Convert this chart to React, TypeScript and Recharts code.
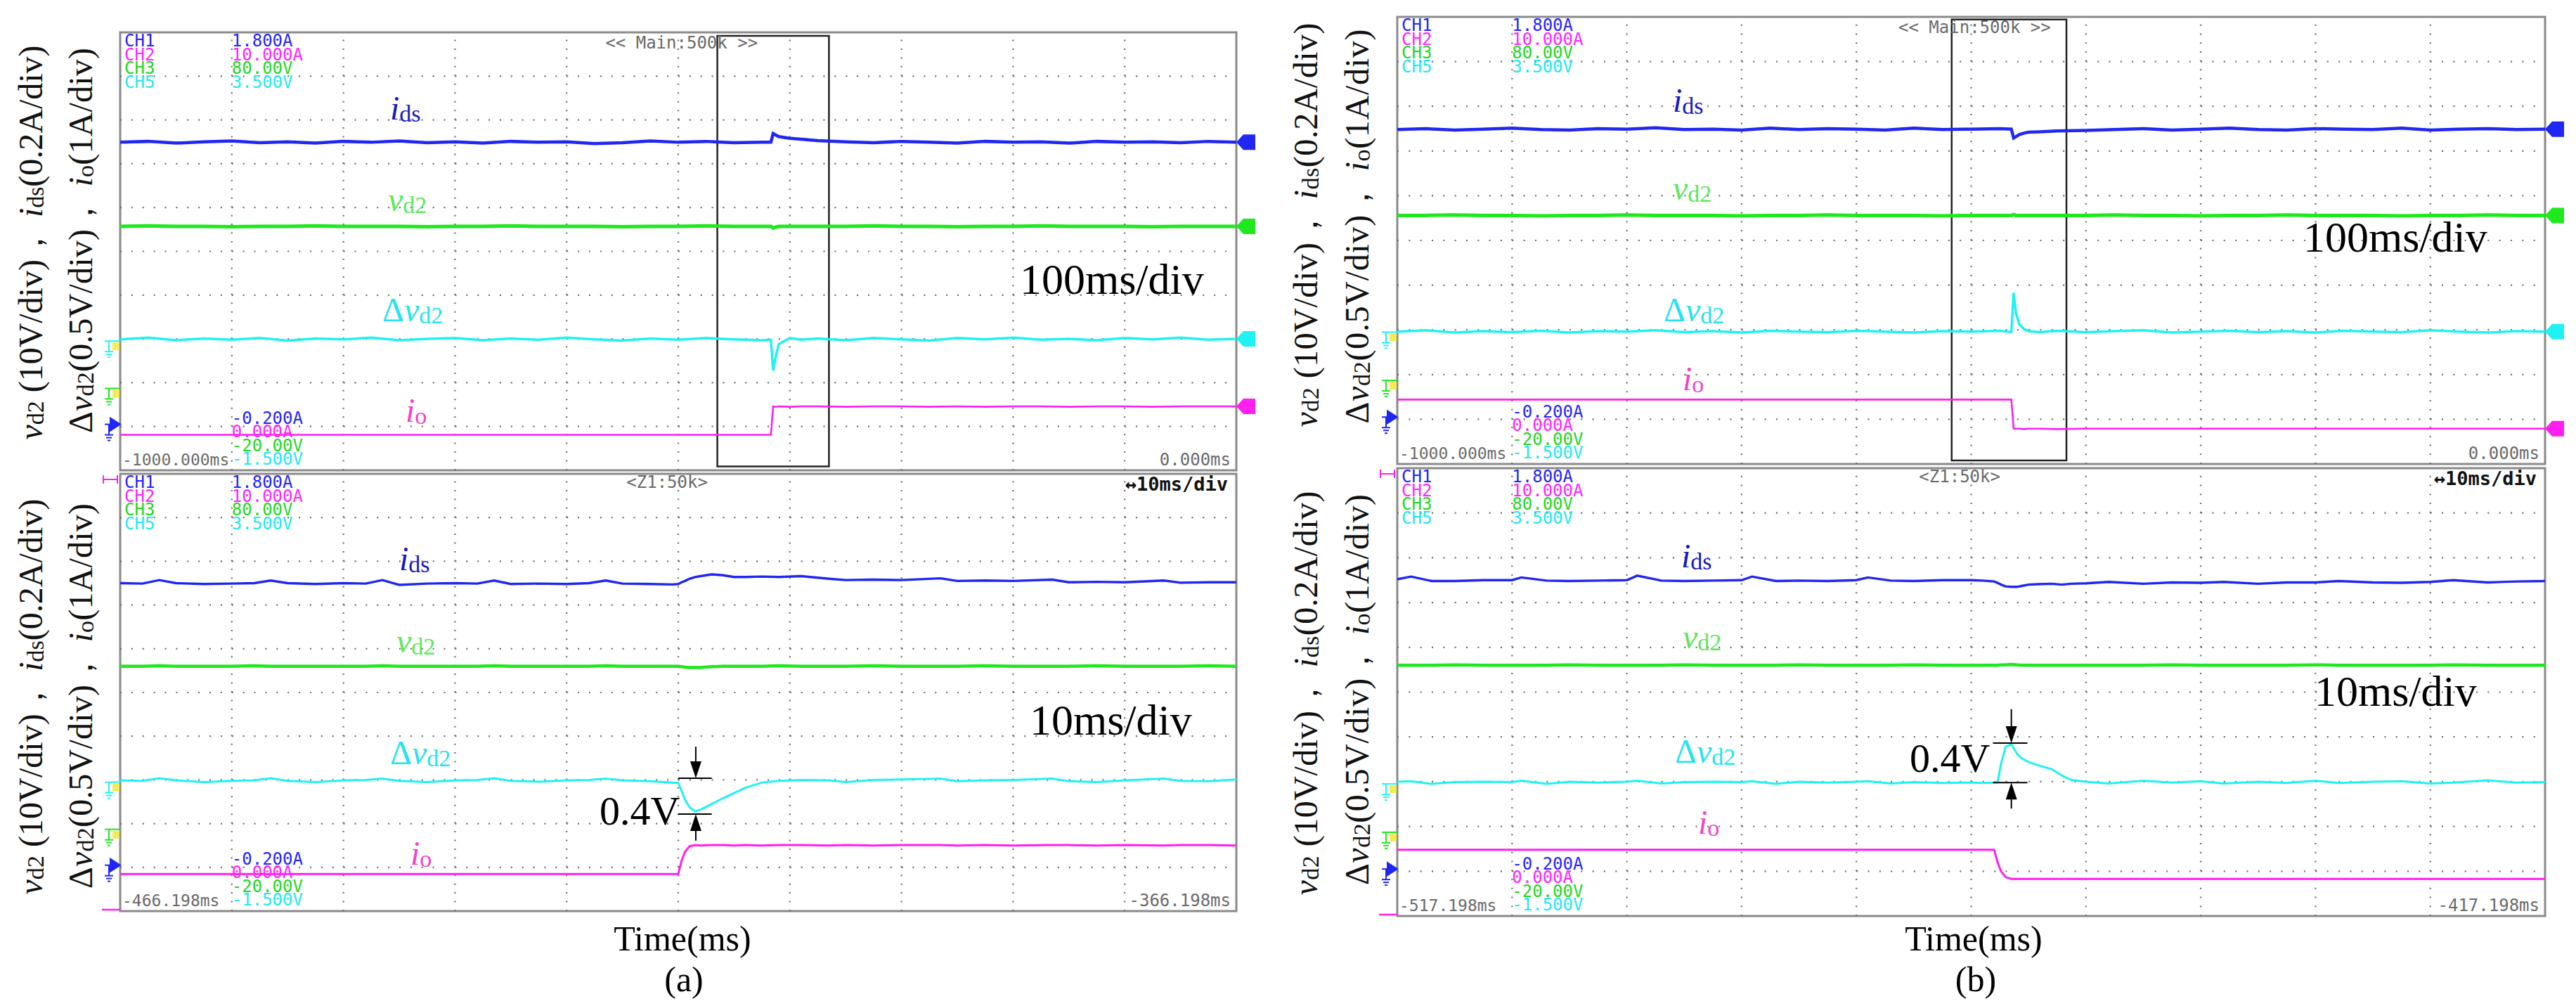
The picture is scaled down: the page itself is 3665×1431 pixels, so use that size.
import React from 'react'
import { LineChart, Line, XAxis, YAxis, ReferenceArea, ReferenceDot, ReferenceLine } from 'recharts'

// Scope readings in divisions: x 0..10 across the screen, y -5..5 around the centre line.

// (a) upper screen, 100ms/div
const aTopX = [0, 0.25, 0.5, 0.75, 1, 1.25, 1.5, 1.75, 2, 2.25, 2.5, 2.75, 3, 3.25, 3.5, 3.75, 4, 4.25, 4.5, 4.75, 5, 5.25, 5.5, 5.75,
  5.83, 5.85, 5.87, 5.9, 6, 6.1,
  6.25, 6.5, 6.75, 7, 7.25, 7.5, 7.75, 8, 8.25, 8.5, 8.75, 9, 9.25, 9.5, 9.75, 10]
const aTopIds = [2.49, 2.51, 2.47, 2.5, 2.52, 2.48, 2.5, 2.47, 2.51, 2.49, 2.52, 2.48, 2.5, 2.47, 2.51, 2.49, 2.5, 2.46, 2.48, 2.52, 2.49, 2.51, 2.48, 2.49,
  2.49, 2.69, 2.66, 2.62, 2.58, 2.56,
  2.53, 2.5, 2.48, 2.51, 2.49, 2.47, 2.51, 2.49, 2.5, 2.47, 2.51, 2.49, 2.5, 2.48, 2.51, 2.49]
const aTopVd2 = [0.57, 0.58, 0.57, 0.57, 0.56, 0.57, 0.57, 0.58, 0.57, 0.57, 0.57, 0.56, 0.57, 0.57, 0.58, 0.57, 0.57, 0.57, 0.56, 0.57, 0.57, 0.58, 0.57, 0.57,
  0.57, 0.53, 0.55, 0.57, 0.57, 0.57,
  0.57, 0.57, 0.58, 0.57, 0.57, 0.56, 0.57, 0.57, 0.58, 0.57, 0.57, 0.57, 0.56, 0.57, 0.57, 0.57]
const aTopDvd2 = [-2.01, -1.97, -2.03, -1.99, -2.02, -1.98, -2.04, -1.99, -2.01, -1.97, -2.03, -2.0, -1.98, -2.03, -1.99, -2.02, -1.97, -2.01, -2.04, -1.99, -2.02, -1.98, -2.01, -2.03,
  -2.02, -2.72, -2.45, -2.12, -1.98, -2.02,
  -1.99, -2.03, -1.98, -2.01, -2.04, -1.98, -2.01, -1.97, -2.02, -2.0, -2.03, -1.98, -2.01, -1.97, -2.02, -2.0]
const aTopIo = [-4.19, -4.19, -4.19, -4.19, -4.19, -4.19, -4.19, -4.19, -4.19, -4.19, -4.19, -4.19, -4.19, -4.19, -4.19, -4.19, -4.19, -4.19, -4.19, -4.19, -4.19, -4.19, -4.19, -4.19,
  -4.19, -3.54, -3.55, -3.54, -3.55, -3.54,
  -3.54, -3.55, -3.54, -3.54, -3.55, -3.54, -3.55, -3.54, -3.54, -3.55, -3.54, -3.54, -3.55, -3.54, -3.54, -3.54]

// (a) lower screen, 10ms/div
const aBotX = [0, 0.2, 0.35, 0.5, 0.75, 1, 1.2, 1.35, 1.5, 1.75, 2, 2.2, 2.35, 2.5, 2.75, 3, 3.2, 3.35, 3.5, 3.75, 4, 4.2, 4.35, 4.5, 4.75,
  4.95, 5.0, 5.03, 5.06, 5.1, 5.15, 5.2, 5.3, 5.4, 5.5, 5.6, 5.75, 5.9, 6.1, 6.35,
  6.5, 6.75, 7, 7.35, 7.5, 7.75, 8, 8.35, 8.5, 8.75, 9, 9.35, 9.5, 9.75, 10]
const aBotIds = [2.5, 2.49, 2.57, 2.5, 2.48, 2.49, 2.5, 2.56, 2.5, 2.48, 2.5, 2.49, 2.57, 2.46, 2.49, 2.5, 2.49, 2.56, 2.48, 2.49, 2.48, 2.5, 2.56, 2.49, 2.48,
  2.47, 2.48, 2.52, 2.55, 2.6, 2.64, 2.66, 2.7, 2.68, 2.64, 2.64, 2.65, 2.64, 2.66, 2.6,
  2.57, 2.58, 2.57, 2.61, 2.55, 2.56, 2.55, 2.58, 2.52, 2.53, 2.52, 2.56, 2.51, 2.52, 2.52]
const aBotVd2 = [0.6, 0.6, 0.61, 0.6, 0.6, 0.6, 0.61, 0.6, 0.6, 0.6, 0.6, 0.6, 0.61, 0.6, 0.6, 0.6, 0.6, 0.61, 0.6, 0.6, 0.6, 0.6, 0.61, 0.6, 0.6,
  0.6, 0.6, 0.59, 0.58, 0.57, 0.57, 0.57, 0.59, 0.6, 0.6, 0.6, 0.6, 0.61, 0.6, 0.6,
  0.6, 0.61, 0.6, 0.6, 0.6, 0.61, 0.6, 0.6, 0.6, 0.61, 0.6, 0.6, 0.6, 0.61, 0.6]
const aBotDvd2 = [-2.01, -2.02, -1.96, -2.01, -2.05, -2.02, -2.01, -1.96, -2.02, -2.05, -2.01, -2.0, -1.97, -2.02, -2.05, -2.01, -2.0, -1.96, -2.02, -2.04, -2.01, -2.0, -1.97, -2.01, -2.03,
  -2.06, -2.07, -2.25, -2.45, -2.62, -2.72, -2.68, -2.55, -2.42, -2.3, -2.18, -2.06, -2.02, -2.0, -2.01,
  -2.05, -2.0, -1.99, -1.97, -2.03, -2.01, -2.0, -1.97, -2.03, -2.05, -2.01, -1.97, -2.02, -2.03, -1.99]
const aBotIo = [-4.15, -4.15, -4.15, -4.15, -4.15, -4.15, -4.15, -4.15, -4.15, -4.15, -4.15, -4.15, -4.15, -4.15, -4.15, -4.15, -4.15, -4.15, -4.15, -4.15, -4.15, -4.15, -4.15, -4.15, -4.15,
  -4.15, -4.15, -3.85, -3.65, -3.52, -3.49, -3.5, -3.49, -3.49, -3.5, -3.49, -3.5, -3.49, -3.49, -3.5,
  -3.49, -3.5, -3.49, -3.49, -3.5, -3.49, -3.5, -3.49, -3.49, -3.5, -3.49, -3.5, -3.49, -3.49, -3.5]

// (b) upper screen, 100ms/div
const bTopX = [0, 0.25, 0.5, 0.75, 1, 1.25, 1.5, 1.75, 2, 2.25, 2.5, 2.75, 3, 3.25, 3.5, 3.75, 4, 4.25, 4.5, 4.75, 5, 5.25,
  5.35, 5.37, 5.39, 5.42, 5.46, 5.5, 5.6, 5.75,
  6, 6.25, 6.5, 6.75, 7, 7.25, 7.5, 7.75, 8, 8.25, 8.5, 8.75, 9, 9.25, 9.5, 9.75, 10]
const bTopIds = [2.48, 2.5, 2.47, 2.49, 2.51, 2.48, 2.47, 2.5, 2.49, 2.52, 2.48, 2.49, 2.47, 2.51, 2.48, 2.5, 2.49, 2.47, 2.51, 2.48, 2.49, 2.5,
  2.49, 2.29, 2.32, 2.37, 2.4, 2.42, 2.43, 2.45,
  2.46, 2.48, 2.5, 2.47, 2.49, 2.51, 2.48, 2.47, 2.5, 2.49, 2.48, 2.51, 2.47, 2.49, 2.5, 2.48, 2.49]
const bTopVd2 = [0.56, 0.56, 0.57, 0.56, 0.56, 0.55, 0.56, 0.56, 0.57, 0.56, 0.56, 0.56, 0.55, 0.56, 0.56, 0.57, 0.56, 0.56, 0.56, 0.55, 0.56, 0.56,
  0.56, 0.58, 0.56, 0.56, 0.56, 0.56, 0.56, 0.56,
  0.56, 0.57, 0.56, 0.56, 0.55, 0.56, 0.56, 0.57, 0.56, 0.56, 0.56, 0.55, 0.56, 0.56, 0.57, 0.56, 0.56]
const bTopDvd2 = [-2.04, -2.01, -2.06, -2.03, -2.05, -2.02, -2.06, -2.03, -2.04, -2.01, -2.05, -2.03, -2.06, -2.02, -2.04, -2.05, -2.02, -2.04, -2.06, -2.03, -2.04, -2.02,
  -2.05, -1.17, -1.62, -1.88, -1.98, -2.03, -2.05, -2.02,
  -2.05, -2.03, -2.01, -2.06, -2.04, -2.02, -2.05, -2.03, -2.06, -2.02, -2.04, -2.05, -2.01, -2.04, -2.06, -2.03, -2.04]
const bTopIo = [-3.56, -3.56, -3.56, -3.56, -3.56, -3.56, -3.56, -3.56, -3.56, -3.56, -3.56, -3.56, -3.56, -3.56, -3.56, -3.56, -3.56, -3.56, -3.56, -3.56, -3.56, -3.56,
  -3.56, -4.21, -4.21, -4.21, -4.22, -4.21, -4.21, -4.22,
  -4.21, -4.21, -4.21, -4.21, -4.21, -4.21, -4.21, -4.21, -4.21, -4.21, -4.21, -4.21, -4.21, -4.21, -4.21, -4.21, -4.21]

// (b) lower screen, 10ms/div
const bBotX = [0, 0.12, 0.3, 0.5, 0.75, 1, 1.08, 1.3, 1.5, 1.75, 2, 2.09, 2.3, 2.5, 2.75, 3, 3.09, 3.3, 3.5, 3.75, 4, 4.1, 4.3, 4.5, 4.75,
  5, 5.1, 5.2, 5.23, 5.26, 5.3, 5.35, 5.4, 5.44, 5.5, 5.58, 5.7, 5.79, 5.87, 6,
  6.2, 6.5, 6.75, 7, 7.2, 7.5, 7.75, 8, 8.2, 8.5, 8.75, 9, 9.2, 9.5, 9.75, 10]
const bBotIds = [2.52, 2.58, 2.48, 2.48, 2.5, 2.5, 2.56, 2.49, 2.48, 2.49, 2.5, 2.6, 2.49, 2.48, 2.49, 2.5, 2.58, 2.48, 2.49, 2.48, 2.5, 2.56, 2.49, 2.48, 2.5,
  2.5, 2.49, 2.47, 2.44, 2.4, 2.36, 2.35, 2.35, 2.37, 2.4, 2.41, 2.42, 2.4, 2.42, 2.43,
  2.46, 2.42, 2.45, 2.44, 2.46, 2.42, 2.45, 2.45, 2.48, 2.45, 2.44, 2.46, 2.5, 2.45, 2.47, 2.48]
const bBotVd2 = [0.6, 0.6, 0.6, 0.61, 0.6, 0.6, 0.6, 0.6, 0.61, 0.6, 0.6, 0.6, 0.6, 0.61, 0.6, 0.6, 0.6, 0.6, 0.61, 0.6, 0.6, 0.6, 0.6, 0.61, 0.6,
  0.6, 0.6, 0.6, 0.6, 0.61, 0.61, 0.62, 0.61, 0.6, 0.6, 0.6, 0.6, 0.6, 0.6, 0.6,
  0.6, 0.6, 0.61, 0.6, 0.6, 0.6, 0.6, 0.61, 0.6, 0.6, 0.6, 0.6, 0.61, 0.6, 0.6, 0.6]
const bBotDvd2 = [-2.0, -1.99, -2.05, -2.01, -2.0, -2.01, -1.98, -2.05, -2.0, -2.02, -2.0, -1.98, -2.04, -2.01, -2.0, -2.01, -1.99, -2.05, -2.0, -2.02, -2.0, -1.99, -2.04, -2.01, -2.03,
  -2.02, -2.03, -2.02, -2.01, -1.6, -1.22, -1.16, -1.38, -1.48, -1.56, -1.63, -1.72, -1.86, -1.96, -2.0,
  -2.04, -1.98, -2.02, -1.99, -2.04, -2.0, -2.03, -1.98, -2.03, -2.0, -1.99, -2.04, -2.02, -1.97, -2.02, -2.01]
const bBotIo = [-3.52, -3.52, -3.52, -3.52, -3.52, -3.52, -3.52, -3.52, -3.52, -3.52, -3.52, -3.52, -3.52, -3.52, -3.52, -3.52, -3.52, -3.52, -3.52, -3.52, -3.52, -3.52, -3.52, -3.52, -3.52,
  -3.52, -3.52, -3.52, -3.8, -4.0, -4.13, -4.17, -4.17, -4.17, -4.17, -4.17, -4.17, -4.17, -4.17, -4.17,
  -4.17, -4.17, -4.17, -4.17, -4.17, -4.17, -4.17, -4.17, -4.17, -4.17, -4.17, -4.17, -4.17, -4.17, -4.17, -4.17]

// channel ground reference levels shown at the left edge (Δvd2, vd2, ids)
const groundLevels = [-2.05, -3.13, -3.95]

const X_TICKS = [1, 2, 3, 4, 5, 6, 7, 8, 9]
const Y_TICKS = [-4, -3, -2, -1, 0, 1, 2, 3, 4]

const SERIF = '"Liberation Serif", "Times New Roman", serif'
const MONO = '"DejaVu Sans Mono", "Liberation Mono", monospace'

const C_IDS = '#2027f2'
const C_VD2 = '#1fe81f'
const C_DVD2 = '#1ff2f2'
const C_IO = '#ff1ff0'
const C_GRID = '#6e6e6e'

interface Rect { left: number; top: number; width: number; height: number }
interface Arrow { x: number; x1: number; x2: number; top: number; bottom: number; topFrom: number; bottomFrom: number }

const PAD_L = 40
const PAD_R = 44
const PAD_T = 14
const PAD_B = 14

const last = (a: number[]) => a[a.length - 1]

const sideMarker = (color: string) => (p: any) => (
  <polygon
    points={`${p.cx},${p.cy} ${p.cx + 10},${p.cy - 11} ${p.cx + 27},${p.cy - 11} ${p.cx + 27},${p.cy + 11} ${p.cx + 10},${p.cy + 11}`}
    fill={color}
  />
)

const groundMarker = (color: string, pointer: boolean) => (p: any) => {
  const { cx, cy } = p
  return (
    <g stroke={color} strokeWidth={2}>
      <line x1={cx - 22} y1={cy} x2={cx} y2={cy} />
      {pointer ? (
        <polygon points={`${cx - 14},${cy - 9} ${cx},${cy} ${cx - 14},${cy + 9}`} fill={color} />
      ) : (
        <rect x={cx - 11} y={cy + 2} width={10} height={11} fill="#f3ec55" stroke="none" />
      )}
      <line x1={cx - 16} y1={cy} x2={cx - 16} y2={cy + 15} />
      <line x1={cx - 22} y1={cy + 15} x2={cx - 10} y2={cy + 15} />
      <line x1={cx - 20} y1={cy + 19} x2={cx - 12} y2={cy + 19} />
      <line x1={cx - 18} y1={cy + 23} x2={cx - 14} y2={cy + 23} />
    </g>
  )
}

const hMarker = (p: any) => (
  <g stroke={C_IO} strokeWidth={2}>
    <line x1={p.cx - 24} y1={p.cy + 2} x2={p.cx - 24} y2={p.cy + 14} />
    <line x1={p.cx - 4} y1={p.cy + 2} x2={p.cx - 4} y2={p.cy + 14} />
    <line x1={p.cx - 24} y1={p.cy + 8} x2={p.cx - 4} y2={p.cy + 8} />
  </g>
)

const tickMarker = (p: any) => (
  <line x1={p.cx - 26} y1={p.cy - 2} x2={p.cx} y2={p.cy - 2} stroke={C_IO} strokeWidth={2.5} />
)

const arrowShape = (p: any) => {
  const { x1, y1, x2, y2 } = p
  const dir = y2 > y1 ? 1 : -1
  const head = 24
  return (
    <g>
      <line x1={x1} y1={y1} x2={x2} y2={y2 - dir * head} stroke="#000" strokeWidth={2} />
      <polygon points={`${x2},${y2} ${x2 - 8},${y2 - dir * head} ${x2 + 8},${y2 - dir * head}`} fill="#000" />
    </g>
  )
}

interface ScreenProps {
  rect: Rect
  xs: number[]
  ids: number[]
  vd2: number[]
  dvd2: number[]
  io: number[]
  widths: number[]
  main?: boolean
  box?: number[]
  arrow?: Arrow
}

function Screen({ rect, xs, ids, vd2, dvd2, io, widths, main, box, arrow }: ScreenProps) {
  const rows = xs.map((x, i) => ({ x, ids: ids[i], vd2: vd2[i], dvd2: dvd2[i], io: io[i] }))
  // scope graticule: dots every 1/10 div along horizontal lines, every 1/5 div along vertical ones
  const dotX = rect.width / 100
  const dotY = rect.height / 50
  const traces = [
    { key: 'io', color: C_IO, w: widths[3], values: io },
    { key: 'dvd2', color: C_DVD2, w: widths[2], values: dvd2 },
    { key: 'vd2', color: C_VD2, w: widths[1], values: vd2 },
    { key: 'ids', color: C_IDS, w: widths[0], values: ids },
  ]
  return (
    <div style={{ position: 'absolute', left: rect.left - PAD_L, top: rect.top - PAD_T }}>
      <LineChart
        width={rect.width + PAD_L + PAD_R}
        height={rect.height + PAD_T + PAD_B}
        data={rows}
        margin={{ top: PAD_T, right: PAD_R, bottom: PAD_B, left: PAD_L }}
      >
        <XAxis dataKey="x" type="number" domain={[0, 10]} ticks={X_TICKS} tick={false} tickLine={false} axisLine={false} height={0} />
        <YAxis type="number" domain={[-5, 5]} ticks={Y_TICKS} tick={false} tickLine={false} axisLine={false} width={0} />
        {Y_TICKS.map(t => (
          <ReferenceLine key={'gy' + t} y={t} stroke={C_GRID} strokeWidth={2.2} strokeDasharray={`2 ${dotX - 2}`} />
        ))}
        {X_TICKS.map(t => (
          <ReferenceLine key={'gx' + t} x={t} stroke={C_GRID} strokeWidth={2.2} strokeDasharray={`2 ${dotY - 2}`} />
        ))}
        {traces.map(t => (
          <Line
            key={t.key}
            dataKey={t.key}
            type="linear"
            stroke={t.color}
            strokeWidth={t.w}
            dot={false}
            activeDot={false}
            isAnimationActive={false}
          />
        ))}
        <ReferenceArea x1={0} x2={10} y1={-5} y2={5} fill="none" stroke="#8a8a8a" strokeWidth={3} ifOverflow="visible" />
        {box && (
          <ReferenceArea x1={box[0]} x2={box[1]} y1={box[2]} y2={box[3]} fill="none" stroke="#222" strokeWidth={2.5} ifOverflow="visible" />
        )}
        {main && traces.map(t => (
          <ReferenceDot key={'m' + t.key} x={10} y={last(t.values)} r={0} ifOverflow="visible" shape={sideMarker(t.color)} />
        ))}
        <ReferenceDot x={0} y={groundLevels[0]} r={0} ifOverflow="visible" shape={groundMarker(C_DVD2, false)} />
        <ReferenceDot x={0} y={groundLevels[1]} r={0} ifOverflow="visible" shape={groundMarker(C_VD2, false)} />
        <ReferenceDot x={0} y={groundLevels[2]} r={0} ifOverflow="visible" shape={groundMarker(C_IDS, true)} />
        {!main && <ReferenceDot x={0} y={5} r={0} ifOverflow="visible" shape={hMarker} />}
        {!main && <ReferenceDot x={0} y={-5} r={0} ifOverflow="visible" shape={tickMarker} />}
        {arrow && (
          <ReferenceLine segment={[{ x: arrow.x1, y: arrow.top }, { x: arrow.x2, y: arrow.top }]} stroke="#000" strokeWidth={2} />
        )}
        {arrow && (
          <ReferenceLine segment={[{ x: arrow.x1, y: arrow.bottom }, { x: arrow.x2, y: arrow.bottom }]} stroke="#000" strokeWidth={2} />
        )}
        {arrow && (
          <ReferenceLine segment={[{ x: arrow.x, y: arrow.topFrom }, { x: arrow.x, y: arrow.top }]} shape={arrowShape} />
        )}
        {arrow && (
          <ReferenceLine segment={[{ x: arrow.x, y: arrow.bottomFrom }, { x: arrow.x, y: arrow.bottom }]} shape={arrowShape} />
        )}
      </LineChart>
    </div>
  )
}

const LINE = 19.6

function ScopeText({ rect, main, leftTime, rightTime }: { rect: Rect; main: boolean; leftTime: string; rightTime: string }) {
  const { left: L, top: T, width: W, height: H } = rect
  const chans = [
    ['CH1', '1.800A', '#2424ff'],
    ['CH2', '10.000A', '#ff24ff'],
    ['CH3', '80.00V', '#1fd81f'],
    ['CH5', '3.500V', '#1fe8f0'],
  ]
  const offsets = ['-0.200A', '0.000A', '-20.00V', '-1.500V']
  const colX = L + W / 10
  return (
    <g fontFamily={MONO} fontSize={24} dominantBaseline="central">
      {/* stacked channel blocks, one text each, like the scope's own readout */}
      <text x={L + 6} y={T + 12}>
        {chans.map((c, i) => (
          <tspan key={c[0]} x={L + 6} dy={i === 0 ? 0 : LINE} fill={c[2]}>{c[0]}</tspan>
        ))}
      </text>
      <text x={colX} y={T + 12}>
        {chans.map((c, i) => (
          <tspan key={c[1]} x={colX} dy={i === 0 ? 0 : LINE} fill={c[2]}>{c[1]}</tspan>
        ))}
      </text>
      <text x={colX} y={T + H - 74}>
        {offsets.map((o, i) => (
          <tspan key={o} x={colX} dy={i === 0 ? 0 : LINE * 0.99} fill={chans[i][2]}>{o}</tspan>
        ))}
      </text>
      <text x={L + 3} y={T + H - 15} fill="#6a6a6a" fontSize={23}>{leftTime}</text>
      <text x={L + W - 8} y={T + H - 15} fill="#6a6a6a" textAnchor="end">{rightTime}</text>
      {main ? (
        <text x={L + W * 0.503} y={T + 15} fill="#6a6a6a" textAnchor="middle">{'<< Main:500k >>'}</text>
      ) : (
        <text x={L + W * 0.49} y={T + 12} fill="#6a6a6a" textAnchor="middle">{'<Z1:50k>'}</text>
      )}
      {!main && (
        <text x={L + W - 12} y={T + 14} fill="#111" textAnchor="end" fontWeight="bold" fontSize={27}>{'↔10ms/div'}</text>
      )}
    </g>
  )
}

function TraceLabel({ x, y, kind }: { x: number; y: number; kind: string }) {
  const sub = 34
  if (kind === 'ids') {
    return (
      <text x={x} y={y} fill="#1818c0" fontSize={48}>
        <tspan fontStyle="italic">i</tspan><tspan fontSize={sub} dy={3}>ds</tspan>
      </text>
    )
  }
  if (kind === 'vd2') {
    return (
      <text x={x} y={y} fill="#5be85b" fontSize={48}>
        <tspan fontStyle="italic">v</tspan><tspan fontSize={sub} dy={3}>d2</tspan>
      </text>
    )
  }
  if (kind === 'dvd2') {
    return (
      <text x={x} y={y} fill="#25e3ef" fontSize={48}>
        <tspan>Δ</tspan><tspan fontStyle="italic">v</tspan><tspan fontSize={sub} dy={3}>d2</tspan>
      </text>
    )
  }
  return (
    <text x={x} y={y} fill="#f542c8" fontSize={48}>
      <tspan fontStyle="italic">i</tspan><tspan fontSize={sub} dy={3}>o</tspan>
    </text>
  )
}

function AxisLabels({ x1, x2, cy1, cy2, len1, len2 }: { x1: number; x2: number; cy1: number; cy2: number; len1: number; len2: number }) {
  return (
    <g fontSize={48} fill="#111" dominantBaseline="central">
      <text transform={`rotate(-90 ${x1} ${cy1})`} x={x1} y={cy1} textAnchor="middle" textLength={len1}>
        <tspan fontStyle="italic">v</tspan>
        <tspan fontSize={34} dy={7}>d2</tspan>
        <tspan dy={-7}>{' (10V/div)， '}</tspan>
        <tspan fontStyle="italic">i</tspan>
        <tspan fontSize={34} dy={7}>ds</tspan>
        <tspan dy={-7}>(0.2A/div)</tspan>
      </text>
      <text transform={`rotate(-90 ${x2} ${cy2})`} x={x2} y={cy2} textAnchor="middle" textLength={len2}>
        <tspan>Δ</tspan>
        <tspan fontStyle="italic">v</tspan>
        <tspan fontSize={34} dy={7}>d2</tspan>
        <tspan dy={-7}>{'(0.5V/div)， '}</tspan>
        <tspan fontStyle="italic">i</tspan>
        <tspan fontSize={34} dy={7}>o</tspan>
        <tspan dy={-7}>(1A/div)</tspan>
      </text>
    </g>
  )
}

const aTopRect: Rect = { left: 171, top: 46, width: 1588, height: 623 }
const aBotRect: Rect = { left: 171, top: 674, width: 1588, height: 622 }
const bTopRect: Rect = { left: 1988, top: 24, width: 1633, height: 636 }
const bBotRect: Rect = { left: 1988, top: 666, width: 1633, height: 637 }

export default function App() {
  return (
    <div style={{ position: 'absolute', left: 0, top: 0, width: 3665, height: 1431, background: '#fff', overflow: 'hidden' }}>
      <Screen rect={aTopRect} xs={aTopX} ids={aTopIds} vd2={aTopVd2} dvd2={aTopDvd2} io={aTopIo}
        widths={[4.5, 5, 3.5, 2.6]} main box={[5.35, 6.35, -4.91, 4.92]} />
      <Screen rect={aBotRect} xs={aBotX} ids={aBotIds} vd2={aBotVd2} dvd2={aBotDvd2} io={aBotIo}
        widths={[3.4, 4.5, 3, 3]}
        arrow={{ x: 5.157, x1: 5.0, x2: 5.3, top: -1.96, bottom: -2.78, topFrom: -1.24, bottomFrom: -3.39 }} />
      <Screen rect={bTopRect} xs={bTopX} ids={bTopIds} vd2={bTopVd2} dvd2={bTopDvd2} io={bTopIo}
        widths={[4.5, 5, 3.5, 2.6]} main box={[4.83, 5.83, -4.92, 4.94]} />
      <Screen rect={bBotRect} xs={bBotX} ids={bBotIds} vd2={bBotVd2} dvd2={bBotDvd2} io={bBotIo}
        widths={[3.4, 4.5, 3, 3]}
        arrow={{ x: 5.35, x1: 5.19, x2: 5.49, top: -1.14, bottom: -2.02, topFrom: -0.38, bottomFrom: -2.6 }} />

      <svg width={3665} height={1431} style={{ position: 'absolute', left: 0, top: 0, pointerEvents: 'none' }} fontFamily={SERIF}>
        <ScopeText rect={aTopRect} main leftTime="-1000.000ms" rightTime="0.000ms" />
        <ScopeText rect={aBotRect} main={false} leftTime="-466.198ms" rightTime="-366.198ms" />
        <ScopeText rect={bTopRect} main leftTime="-1000.000ms" rightTime="0.000ms" />
        <ScopeText rect={bBotRect} main={false} leftTime="-517.198ms" rightTime="-417.198ms" />

        <TraceLabel x={555} y={170} kind="ids" />
        <TraceLabel x={552} y={300} kind="vd2" />
        <TraceLabel x={544} y={457} kind="dvd2" />
        <TraceLabel x={577} y={600} kind="io" />
        <TraceLabel x={568} y={811} kind="ids" />
        <TraceLabel x={564} y={928} kind="vd2" />
        <TraceLabel x={555} y={1087} kind="dvd2" />
        <TraceLabel x={584} y={1230} kind="io" />
        <TraceLabel x={2380} y={159} kind="ids" />
        <TraceLabel x={2380} y={284} kind="vd2" />
        <TraceLabel x={2367} y={457} kind="dvd2" />
        <TraceLabel x={2394} y={555} kind="io" />
        <TraceLabel x={2392} y={807} kind="ids" />
        <TraceLabel x={2394} y={922} kind="vd2" />
        <TraceLabel x={2383} y={1085} kind="dvd2" />
        <TraceLabel x={2416} y={1186} kind="io" />

        <g fill="#000" fontSize={62}>
          <text x={1451} y={418}>100ms/div</text>
          <text x={1465} y={1045}>10ms/div</text>
          <text x={3277} y={358}>100ms/div</text>
          <text x={3293} y={1004}>10ms/div</text>
        </g>
        <g fill="#000" fontSize={58}>
          <text x={853} y={1173}>0.4V</text>
          <text x={2717} y={1098}>0.4V</text>
        </g>
        <g fill="#000" fontSize={50} textAnchor="middle">
          <text x={971} y={1352}>Time(ms)</text>
          <text x={2808} y={1352}>Time(ms)</text>
          <text x={973} y={1410}>(a)</text>
          <text x={2811} y={1410}>(b)</text>
        </g>

        <AxisLabels x1={43} x2={114} cy1={345} cy2={342} len1={561} len2={548} />
        <AxisLabels x1={43} x2={114} cy1={991} cy2={990} len1={563} len2={548} />
        <AxisLabels x1={1857} x2={1930} cy1={320} cy2={322} len1={575} len2={561} />
        <AxisLabels x1={1857} x2={1930} cy1={986} cy2={981} len1={575} len2={556} />
      </svg>
    </div>
  )
}
